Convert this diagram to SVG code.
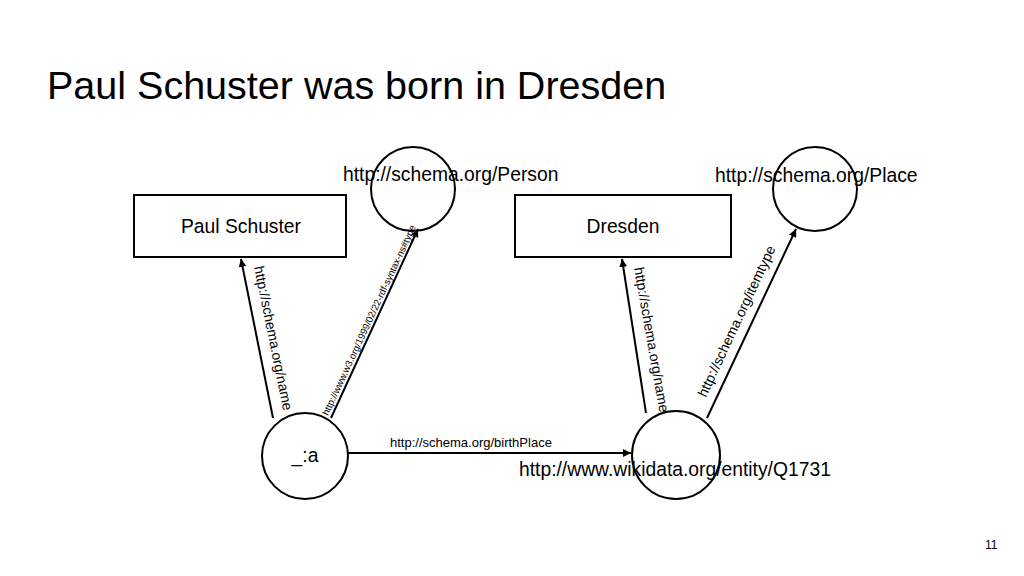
<svg xmlns="http://www.w3.org/2000/svg" width="1024" height="576" viewBox="0 0 1024 576">
<defs>
<marker id="ah" viewBox="0 0 10 10" refX="10" refY="5" markerWidth="8" markerHeight="8" markerUnits="userSpaceOnUse" orient="auto"><path d="M0,0 L10,5 L0,10 z" fill="#000"/></marker>
<style>
text{font-family:"Liberation Sans",Arial,sans-serif;fill:#000}
.n{fill:#fff;stroke:#000;stroke-width:2}
.e{stroke:#000;stroke-width:2;fill:none;marker-end:url(#ah)}
.t{font-size:19.3px}
.l{font-size:14px}
</style>
</defs>
<rect width="1024" height="576" fill="#fff"/>
<text x="47" y="99" style="font-size:39.5px">Paul Schuster was born in Dresden</text>
<g id="paul"><rect class="n" x="134" y="195" width="212" height="62"/><text class="t" x="241" y="233" text-anchor="middle">Paul Schuster</text></g>
<g id="person"><circle class="n" cx="413" cy="189" r="42"/><text class="t" x="343" y="181">http://schema.org/Person</text></g>
<g id="dresden"><rect class="n" x="515" y="195" width="216" height="62"/><text class="t" x="623" y="233" text-anchor="middle">Dresden</text></g>
<g id="place"><circle class="n" cx="815" cy="189" r="42"/><text class="t" x="715" y="182">http://schema.org/Place</text></g>
<g id="a"><circle class="n" cx="305" cy="456" r="43"/><text class="t" x="305" y="462" text-anchor="middle">_:a</text></g>
<g id="q1731"><circle class="n" cx="676" cy="455" r="44"/><text class="t" x="519" y="476">http://www.wikidata.org/entity/Q1731</text></g>
<g id="connectors">
<line class="e" x1="273" y1="418" x2="241" y2="259"/>
<line class="e" x1="331" y1="418" x2="418" y2="229"/>
<line class="e" x1="348" y1="453" x2="631" y2="453"/>
<line class="e" x1="646" y1="413" x2="622" y2="259"/>
<line class="e" x1="707" y1="418" x2="796" y2="229"/>
<text class="l" transform="translate(254,267) rotate(78.5)">http://schema.org/name</text>
<text style="font-size:9.6px" transform="translate(328,416) rotate(-65)">http://www.w3.org/1999/02/22-rdf-syntax-ns#type</text>
<text style="font-size:13px" x="390" y="447">http://schema.org/birthPlace</text>
<text class="l" transform="translate(634,268) rotate(80)">http://schema.org/name</text>
<text class="l" transform="translate(706,398) rotate(-65)">http://schema.org/itemtype</text>
</g>
<text x="985" y="549" style="font-size:12px">11</text>
</svg>
